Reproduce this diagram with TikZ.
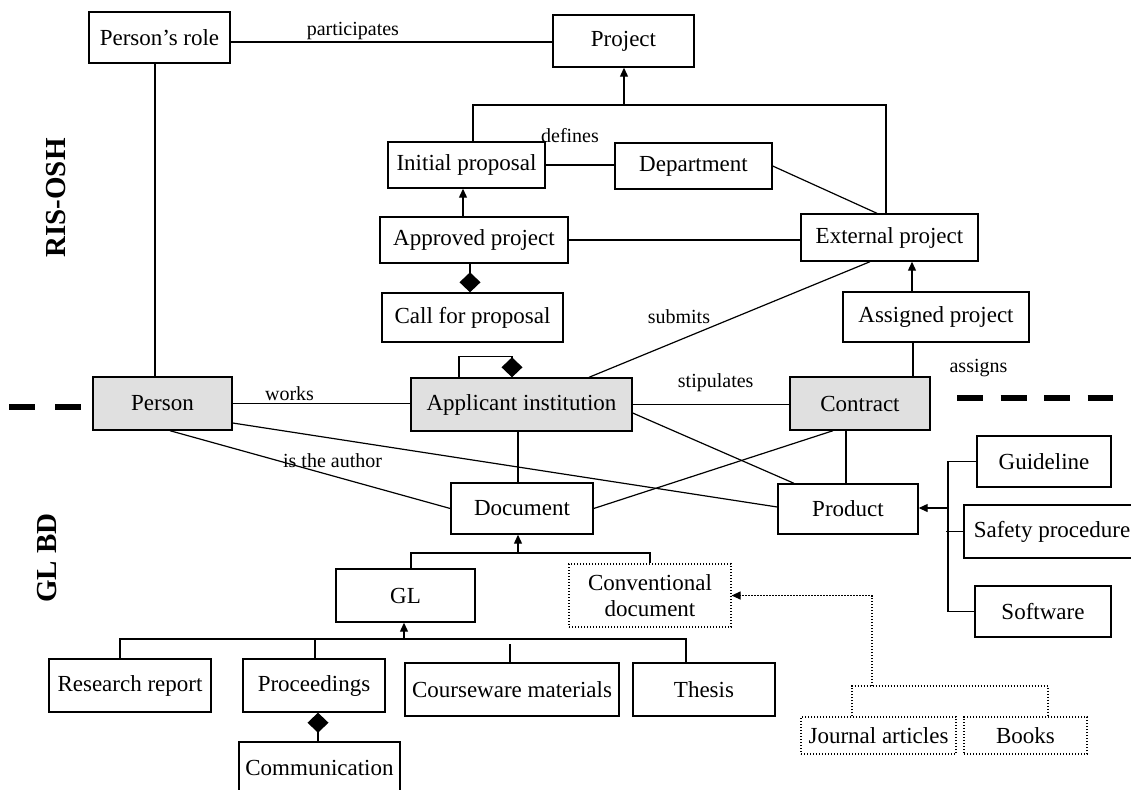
\documentclass[tikz,border=0pt]{standalone}
\usepackage{fontspec}
\setmainfont{Liberation Serif}
\usetikzlibrary{arrows.meta}

\tikzset{
  box/.style={draw, line width=0.7pt, inner sep=0pt, align=center, font=\fontsize{11.5}{13}\selectfont},
  wh/.style 2 args={minimum width=#1*0.5pt, minimum height=#2*0.5pt},
  shadedbox/.style={box, fill=black!12},
  dotbox/.style={box, line width=0.6pt, dash pattern=on 0.6pt off 0.9pt},
  dotline/.style={line width=0.6pt, dash pattern=on 0.6pt off 0.9pt},
  lbl/.style={inner sep=1pt, font=\fontsize{10}{12}\selectfont},
  side/.style={font=\bfseries\fontsize{14.5}{16}\selectfont, rotate=90},
  bandline/.style={line width=3pt, dash pattern=on 13pt off 10pt},
  genarrow/.style={-{Triangle[length=4.5pt,width=4pt]}},
  aggr/.style={-{Diamond[length=10pt,width=10.5pt]}},
}

\begin{document}
\begin{tikzpicture}[x=0.5pt, y=-0.5pt, line width=0.6pt]
\useasboundingbox (0,0) rectangle (1131,789);

% RIS-OSH part
\node[box, wh={141}{51}] (prole) at (159.5,37.5) {Person’s role};
\node[box, wh={141}{52}] (project) at (623.5,41) {Project};
\node[box, wh={157}{46}] (initp) at (466.5,165) {Initial proposal};
\node[box, wh={157}{46}] (dept) at (693.5,166) {Department};
\node[box, wh={188}{46}] (approved) at (474,240) {Approved project};
\node[box, wh={177}{47}] (extp) at (889.5,237.5) {External project};
\node[box, wh={181}{49}] (call) at (472.5,317.5) {Call for proposal};
\node[box, wh={186}{50}] (assigned) at (936,317) {Assigned project};

% shared classes
\node[shadedbox, wh={139}{53}] (person) at (162.5,403.5) {Person};
\node[shadedbox, wh={221}{53}] (appl) at (521.5,404.5) {Applicant institution};
\node[shadedbox, wh={140}{53}] (contract) at (860,403.5) {Contract};

% GL BD part
\node[box, wh={142}{51}] (document) at (522,508.5) {Document};
\node[box, wh={140}{50}] (product) at (848,509) {Product};
\node[box, wh={134}{51}] (guide) at (1044,461.5) {Guideline};
\node[box, wh={176}{53}] (safety) at (1052,531.5) {Safety procedure};
\node[box, wh={136}{51}] (software) at (1043,611.5) {Software};
\node[box, wh={139}{53}] (gl) at (405.5,595.5) {GL};
\node[dotbox, wh={162}{63}] (conv) at (650,595.5) {Conventional\\document};
\node[box, wh={162}{53}] (rr) at (130,685.5) {Research report};
\node[box, wh={142}{53}] (proc) at (314,685.5) {Proceedings};
\node[box, wh={214}{53}] (course) at (512,689.5) {Courseware materials};
\node[box, wh={142}{53}] (thesis) at (704,689.5) {Thesis};
\node[box, wh={161}{52}] (comm) at (319.5,768) {Communication};
\node[dotbox, wh={155}{37}] (journal) at (878.5,735.5) {Journal articles};
\node[dotbox, wh={123}{37}] (books) at (1025.5,735.5) {Books};

\node[side] (ris) at (56,198) {RIS-OSH};
\node[side] (glbd) at (47,558) {GL BD};

% separators
\draw[bandline] (9,407) -- (82,407);
\draw[bandline, dash pattern=on 13pt off 8.75pt] (957,398) -- (1113,398);

\coordinate (projbar) at (624,105);
\coordinate (prodbar) at (948,508);
\coordinate (docbar) at (518,553);
\coordinate (glbar) at (404,639);
\coordinate (convbar) at (872,686);

% upper connectors
\draw (prole.east |- 0,42) -- node[lbl, above, pos=0.38] {participates} (project.west |- 0,42);
\draw (prole.south -| 155,0) -- (person.north -| 155,0);
\draw (initp.north -| 473,0) |- (projbar) -| (extp.north -| 886,0);
\draw[genarrow] (projbar) -- (project.south -| projbar);
\draw (initp.east) -- node[lbl, xshift=-5pt, yshift=14.5pt] {defines} (initp.east -| dept.west);
\draw (dept.east) -- (extp.north -| 877,0);
\draw (approved.east) -- (approved.east -| extp.west);
\draw[genarrow] (approved.north -| 463,0) -- (initp.south -| 463,0);
\draw[aggr] (approved.south -| 470,0) -- (call.north -| 470,0);
\draw[genarrow] (assigned.north -| 912,0) -- (extp.south -| 912,0);
\draw (appl.north -| 589,0) -- node[lbl, pos=0.44, anchor=south east] {submits} (extp.south -| 870,0);
\draw (assigned.south -| 913,0) -- node[lbl, pos=0.74, anchor=west, xshift=17pt] {assigns} (contract.north -| 913,0);

% middle connectors
\draw (person.east) -- node[lbl, above, pos=0.32] {works} (person.east -| appl.west);
\draw[aggr] (appl.north -| 459,0) -- ++(0,-21) -| (appl.north -| 512,0);
\draw (appl.east) -- node[lbl, above=5pt, pos=0.53] {stipulates} (appl.east -| contract.west);
\draw (person.south -| 170,0) -- node[lbl, pos=0.58, yshift=7.5pt] {is the author} (document.west);
\draw (person.east |- 0,423) -- (product.west |- 0,507);
\draw (appl.east |- 0,413) -- (product.north -| 794,0);
\draw (document.east) -- (contract.south -| 833,0);
\draw (appl.south -| 518,0) -- (document.north -| 518,0);
\draw (contract.south -| 846,0) -- (product.north -| 846,0);

% product kinds
\draw (guide.west) -| (prodbar) |- (software.west);
\draw (safety.west) -- (safety.west -| 946,0);
\draw[genarrow] (prodbar) -- (product.east |- prodbar);

% document kinds
\draw (gl.north -| 411,0) |- (docbar) -| (conv.north);
\draw[genarrow] (docbar) -- (document.south -| docbar);
\draw (rr.north -| 120,0) |- (glbar) -| (thesis.north -| 686,0);
\draw (proc.north -| 315,0) -- (glbar -| 315,0);
\draw (course.north -| 510,0) -- ++(0,-18);
\draw[genarrow] (glbar) -- (gl.south -| glbar);
\draw[aggr] (comm.north -| 318,0) -- (proc.south -| 318,0);
\draw[dotline] (journal.north -| 852,0) |- (convbar) -| (books.north -| 1048,0);
\draw[dotline, genarrow] (convbar) |- (conv.east);
\end{tikzpicture}
\end{document}
